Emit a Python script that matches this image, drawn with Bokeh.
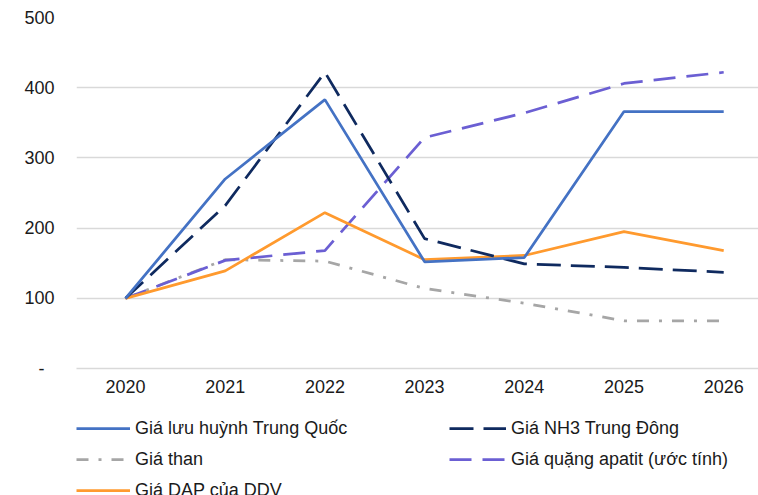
from bokeh.plotting import figure
from bokeh.models import Range1d, FixedTicker, Legend, LegendItem
from bokeh.layouts import column
from bokeh.embed import file_html
from bokeh.resources import INLINE

years = [2020, 2021, 2022, 2023, 2024, 2025, 2026]
sulfur = [100, 270, 383, 152, 158, 366, 366]
nh3 = [100, 232, 422, 185, 149, 144, 137]
coal = [100, 155, 153, 114, 93, 68, 68]
apatite = [100, 154, 168, 329, 364, 406, 422]
dap = [100, 139, 222, 155, 161, 195, 168]
y_ticks = [0, 100, 200, 300, 400, 500]
y_tick_labels = ["-\u00a0\u00a0", "100", "200", "300", "400", "500"]
series_names = ["Giá lưu huỳnh Trung Quốc", "Giá NH3 Trung Đông", "Giá than",
                "Giá quặng apatit (ước tính)", "Giá DAP của DDV"]

FONT = "Liberation Sans"
TXT = "#1a1a1a"
W = 2.75
styles = {
    "sulfur": dict(line_color="#4472c4", line_width=W),
    "nh3": dict(line_color="#0f2a5f", line_width=W, line_dash="24 10"),
    "coal": dict(line_color="#a6a6a6", line_width=W, line_dash="12 10 3 10"),
    "apatite": dict(line_color="#6b5fd3", line_width=W, line_dash="22 11"),
    "dap": dict(line_color="#ff9a2e", line_width=W),
}
series = {"sulfur": sulfur, "nh3": nh3, "coal": coal, "apatite": apatite, "dap": dap}

p = figure(width=758, height=410, output_backend="svg", toolbar_location=None,
           x_range=Range1d(2019.5085, 2026.349), y_range=Range1d(0, 500),
           min_border_left=76, min_border_right=0, min_border_top=17,
           min_border_bottom=42)
p.outline_line_color = None
p.background_fill_color = "white"
p.border_fill_color = "white"

p.xgrid.visible = False
p.ygrid.grid_line_color = "#d9d9d9"
p.ygrid.grid_line_width = 1.3
p.ygrid.ticker = FixedTicker(ticks=y_ticks)

p.yaxis.ticker = FixedTicker(ticks=y_ticks)
p.yaxis.major_label_overrides = {t: l for t, l in zip(y_ticks, y_tick_labels)}
p.yaxis.axis_line_color = None
p.yaxis.major_tick_line_color = None
p.yaxis.minor_tick_line_color = None
p.yaxis.major_tick_out = 0
p.yaxis.major_label_standoff = 22
p.yaxis.major_label_text_font = FONT
p.yaxis.major_label_text_font_size = "18px"
p.yaxis.major_label_text_color = TXT

p.xaxis.ticker = FixedTicker(ticks=years)
p.xaxis.major_label_overrides = {y: str(y) for y in years}
p.xaxis.axis_line_color = "#d9d9d9"
p.xaxis.axis_line_width = 1.3
p.xaxis.major_tick_line_color = None
p.xaxis.minor_tick_line_color = None
p.xaxis.major_tick_out = 0
p.xaxis.major_tick_in = 0
p.xaxis.major_label_standoff = 11
p.xaxis.major_label_text_font = FONT
p.xaxis.major_label_text_font_size = "18px"
p.xaxis.major_label_text_color = TXT

for key in ["coal", "apatite", "dap", "nh3", "sulfur"]:
    p.line(years, series[key], **styles[key])

# legend strip (separate figure so the legend is not clipped by the chart frame)
lp = figure(width=758, height=85, output_backend="svg", toolbar_location=None,
            x_axis_type=None, y_axis_type=None,
            x_range=Range1d(0, 1), y_range=Range1d(0, 1),
            min_border_left=0, min_border_right=0, min_border_top=0,
            min_border_bottom=0)
lp.outline_line_color = None
lp.grid.visible = False
# same series drawn outside the strip's view; used only for legend swatches
lr = {k: lp.line(years, series[k], **s) for k, s in styles.items()}

def make_legend(items, loc, gw):
    return Legend(items=items, location=loc, orientation="vertical",
                  padding=0, margin=0, spacing=10, glyph_width=gw, glyph_height=20,
                  label_height=20, label_standoff=5,
                  label_text_font=FONT, label_text_font_size="18px",
                  label_text_color=TXT, border_line_color=None,
                  background_fill_alpha=0)

left = make_legend([
    LegendItem(label=series_names[0], renderers=[lr["sulfur"]]),
    LegendItem(label=series_names[2], renderers=[lr["coal"]]),
    LegendItem(label=series_names[4], renderers=[lr["dap"]]),
], (0, -5.5), 54)
right = make_legend([
    LegendItem(label=series_names[1], renderers=[lr["nh3"]]),
    LegendItem(label=series_names[3], renderers=[lr["apatite"]]),
], (373, 25.5), 57)
lp.add_layout(left)
lp.add_layout(right)

open("out.html", "w").write(file_html(column(p, lp), INLINE))
